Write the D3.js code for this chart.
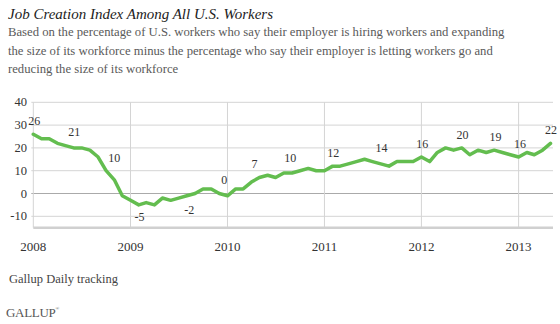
<!DOCTYPE html>
<html>
<head>
<meta charset="utf-8">
<script src="https://cdn.jsdelivr.net/npm/d3@7"></script>
<style>
  body { margin: 0; background: #fff; }
  svg { display: block; }
</style>
</head>
<body>
<div id="chart"></div>
<script>
// monthly values, Jan 2008 .. May 2013
const startMonth = "2008-01-01";
const values = [
  26, 24, 24, 22, 21, 20, 20, 19, 16, 10, 6, -1,
  -3, -5, -4, -5, -2, -3, -2, -1, 0, 2, 2, 0,
  -1, 2, 2, 5, 7, 8, 7, 9, 9, 10, 11, 10,
  10, 12, 12, 13, 14, 15, 14, 13, 12, 14, 14, 14,
  16, 14, 18, 20, 19, 20, 17, 19, 18, 19, 18, 17,
  16, 18, 17, 19, 22
];

// point labels
const labelDates = ["2008-01-05", "2008-06-03", "2008-11-01", "2009-02-04", "2009-08-10", "2009-12-20",
  "2010-04-13", "2010-08-25", "2011-02-03", "2011-08-04", "2012-01-04", "2012-06-04",
  "2012-10-06", "2013-01-06", "2013-05-03"];
const labelValues = [26, 21, 10, -5, -2, 0, 7, 10, 12, 14, 16, 20, 19, 16, 22];
const labelBelow = [false, false, false, true, true, false, false, false, false, false, false, false, false, false, false];

const yTicks = [40, 30, 20, 10, 0, -10];
const yearTicks = ["2008", "2009", "2010", "2011", "2012", "2013"];

const titleText = "Job Creation Index Among All U.S. Workers";
const subtitleLines = [
  "Based on the percentage of U.S. workers who say their employer is hiring workers and expanding",
  "the size of its workforce minus the percentage who say their employer is letting workers go and",
  "reducing the size of its workforce"
];
const sourceText = "Gallup Daily tracking";

const width = 560;
const height = 324;
const serif = "'Liberation Serif', 'DejaVu Serif', serif";

const parse = d3.timeParse("%Y-%m-%d");
const start = parse(startMonth);
const data = values.map((v, i) => ({ date: d3.timeMonth.offset(start, i), value: v }));

const x = d3.scaleTime()
  .domain([start, d3.timeMonth.offset(start, values.length - 1)])
  .range([33.3, 550.5]);
const y = d3.scaleLinear().domain([-15, 40]).range([227.7, 102.3]);
const plotRight = 553;

const svg = d3.select("#chart").append("svg")
  .attr("width", width)
  .attr("height", height)
  .style("font-family", serif);

// title + subtitle
svg.append("text")
  .attr("x", 8).attr("y", 18.5)
  .attr("font-size", 15).attr("font-style", "italic")
  .attr("fill", "#222")
  .text(titleText);

svg.append("g").selectAll("text")
  .data(subtitleLines)
  .join("text")
  .attr("x", 8)
  .attr("y", (d, i) => 36 + i * 18.5)
  .attr("font-size", 12.7)
  .attr("fill", "#5a5a5a")
  .text(d => d);

// horizontal gridlines
svg.append("g").selectAll("line")
  .data(yTicks)
  .join("line")
  .attr("x1", x.range()[0] - 2).attr("x2", plotRight)
  .attr("y1", d => y(d)).attr("y2", d => y(d))
  .attr("stroke", d => d === 0 ? "#aaa" : "#d4d4d4")
  .attr("stroke-width", 1);

// vertical year gridlines
const years = yearTicks.map(d => d3.timeParse("%Y")(d));
svg.append("g").selectAll("line")
  .data(years)
  .join("line")
  .attr("x1", d => x(d)).attr("x2", d => x(d))
  .attr("y1", y(40)).attr("y2", y(-15))
  .attr("stroke", "#d4d4d4")
  .attr("stroke-width", 1);

// bottom axis line
svg.append("line")
  .attr("x1", x.range()[0]).attr("x2", plotRight)
  .attr("y1", y(-15)).attr("y2", y(-15))
  .attr("stroke", "#d0d0d0")
  .attr("stroke-width", 2.5);

// y tick labels
svg.append("g").selectAll("text")
  .data(yTicks)
  .join("text")
  .attr("x", 27)
  .attr("y", d => y(d))
  .attr("dy", "0.32em")
  .attr("text-anchor", "end")
  .attr("font-size", 12.5)
  .attr("fill", "#333")
  .text(d => d);

// x tick labels
svg.append("g").selectAll("text")
  .data(years)
  .join("text")
  .attr("x", d => x(d))
  .attr("y", 251)
  .attr("text-anchor", "middle")
  .attr("font-size", 13)
  .attr("fill", "#333")
  .text(d => d3.timeFormat("%Y")(d));

// the line
const line = d3.line()
  .x(d => x(d.date))
  .y(d => y(d.value));

svg.append("path")
  .datum(data)
  .attr("d", line)
  .attr("fill", "none")
  .attr("stroke", "#63bd4f")
  .attr("stroke-width", 3.5)
  .attr("stroke-linejoin", "round")
  .attr("stroke-linecap", "round");

// point labels
svg.append("g").selectAll("text")
  .data(labelValues)
  .join("text")
  .attr("x", (d, i) => x(parse(labelDates[i])))
  .attr("y", (d, i) => y(d) + (labelBelow[i] ? 12.5 : -13))
  .attr("dy", "0.32em")
  .attr("text-anchor", "middle")
  .attr("font-size", 12)
  .attr("fill", "#333")
  .text(d => d);

// source + logo
svg.append("text")
  .attr("x", 9).attr("y", 283)
  .attr("font-size", 12.5)
  .attr("fill", "#444")
  .text(sourceText);

const logo = svg.append("text")
  .attr("x", 6).attr("y", 317)
  .attr("font-size", 13)
  .attr("fill", "#555")
  .attr("letter-spacing", -0.3)
  .text("GALLUP");
logo.append("tspan")
  .attr("font-size", 5)
  .attr("dy", -7)
  .text("®");
</script>
</body>
</html>
